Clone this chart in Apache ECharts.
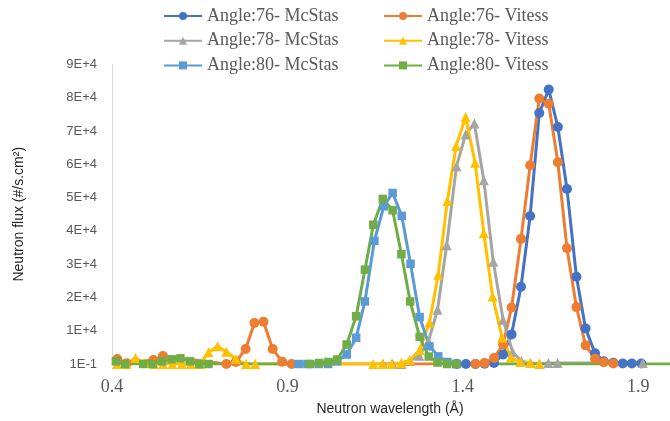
<!DOCTYPE html>
<html>
<head>
<meta charset="utf-8">
<script src="https://cdn.jsdelivr.net/npm/echarts@6/dist/echarts.min.js"></script>
<style>
html,body{margin:0;padding:0;background:#fff;}
#chart{width:670px;height:421px;}
</style>
</head>
<body>
<div id="chart"></div>
<script>
// ---- data (wavelength in Å, flux in #/s.cm2) ----
const xTicks = [0.4, 0.9, 1.4, 1.9];
const yTicks = ['1E-1','1E+4','2E+4','3E+4','4E+4','5E+4','6E+4','7E+4','8E+4','9E+4'];

const x76McStas = [1.383,1.409,1.436,1.462,1.489,1.515,1.539,1.566,1.592,1.618,1.645,1.671,1.697,1.724,1.750,1.777,1.802,1.829,1.856,1.882,1.909];
const y76McStas = [0,0,0,100,300,2850,8900,23200,44500,75400,82500,71200,52600,26200,10700,3200,850,350,150,150,150];

const x76Vitess = [0.415,0.442,0.518,0.545,0.726,0.753,0.781,0.806,0.832,0.858,0.885,0.912,1.436,1.462,1.489,1.515,1.539,1.566,1.592,1.618,1.645,1.671,1.697,1.724,1.750,1.777,1.802,1.829];
const y76Vitess = [1500,200,1200,2400,0,600,4500,12300,12700,4500,700,0,0,300,1800,5900,17000,37600,59700,79800,78200,60600,34800,17100,5600,1600,550,150];

const x78McStas = [1.173,1.200,1.225,1.249,1.276,1.302,1.328,1.354,1.382,1.408,1.433,1.460,1.487,1.515,1.542,1.567,1.593,1.619,1.644,1.670,1.913];
const y78McStas = [0,0,0,900,2500,6800,16300,35700,59400,69000,72300,55200,30700,13300,3600,900,300,0,300,300,300];

const x78Vitess = [0.414,0.441,0.467,0.494,0.520,0.545,0.572,0.599,0.625,0.651,0.675,0.701,0.726,0.753,0.782,0.808,1.145,1.171,1.197,1.225,1.249,1.277,1.305,1.330,1.356,1.381,1.408,1.435,1.460,1.485,1.512,1.537,1.564,1.592,1.618];
const y78Vitess = [0,0,1800,300,0,0,0,0,0,0,3500,5300,3700,1500,0,0,0,0,0,300,1200,4200,12500,26800,49000,65500,74200,60500,39300,20300,8000,2000,600,300,100];

const x80McStas = [0.932,0.957,0.989,1.016,1.042,1.069,1.096,1.121,1.148,1.175,1.200,1.226,1.251,1.277,1.305,1.330,1.356,1.382];
const y80McStas = [0,0,0,0,800,2850,7900,18800,37000,47400,51400,44500,30100,14100,5300,2300,600,0];

const x80Vitess = [0.411,0.437,0.489,0.516,0.543,0.570,0.595,0.622,0.649,0.675,0.964,0.991,1.017,1.042,1.069,1.096,1.121,1.145,1.172,1.200,1.225,1.250,1.277,1.303,1.328,1.355,1.381,2.100];
const y80Vitess = [800,0,0,0,800,1400,1700,800,0,0,0,300,600,1350,5850,14350,28350,41850,49600,46200,33000,18800,8150,2250,450,0,0,0];

const zip = (xs, ys) => xs.map((x, i) => [x, ys[i]]);

const chart = echarts.init(document.getElementById('chart'), null, {renderer: 'canvas'});

function mk(name, xs, ys, color, symbol, size) {
  return {
    name: name, type: 'line', data: zip(xs, ys),
    symbol: symbol, symbolSize: size, showSymbol: true,
    clip: true, animation: false,
    lineStyle: {width: 3, color: color},
    itemStyle: {color: color, borderColor: color, borderWidth: 0}
  };
}

const legendText = {fontFamily: 'Liberation Serif', fontSize: 18, color: '#595959', lineHeight: 18};

chart.setOption({
  backgroundColor: '#ffffff',
  animation: false,
  grid: {left: 112, right: 2, top: 64.5, bottom: 56.5, containLabel: false},
  legend: [
    {orient: 'vertical', left: 158, top: 2, itemGap: 6.7, itemWidth: 38, itemHeight: 10,
     data: ['Angle:76- McStas', 'Angle:78- McStas', 'Angle:80- McStas'], textStyle: legendText},
    {orient: 'vertical', left: 378, top: 2, itemGap: 6.7, itemWidth: 38, itemHeight: 10,
     data: ['Angle:76- Vitess', 'Angle:78- Vitess', 'Angle:80- Vitess'], textStyle: legendText}
  ],
  xAxis: {
    type: 'value', min: 0.4, max: 1.985, interval: 0.5,
    name: 'Neutron wavelength (Å)', nameLocation: 'middle', nameGap: 38,
    nameTextStyle: {fontFamily: 'Liberation Sans', fontSize: 14, color: '#262626'},
    axisLine: {show: true, lineStyle: {color: '#D9D9D9', width: 1}},
    axisTick: {show: false},
    splitLine: {show: false},
    axisLabel: {
      margin: 14, showMaxLabel: false,
      fontFamily: 'Liberation Serif', fontSize: 18, color: '#595959',
      formatter: function (v) {
        const t = xTicks.find(function (k) { return Math.abs(k - v) < 1e-6; });
        return t === undefined ? '' : t.toFixed(1);
      }
    }
  },
  yAxis: {
    type: 'value', min: 0, max: 90000, interval: 10000,
    name: 'Neutron flux (#/s.cm²)', nameLocation: 'middle', nameGap: 86, nameRotate: 90,
    nameTextStyle: {fontFamily: 'Liberation Sans', fontSize: 14, color: '#262626'},
    axisLine: {show: true, lineStyle: {color: '#D9D9D9', width: 1}},
    axisTick: {show: false},
    splitLine: {show: false},
    axisLabel: {
      margin: 15, fontFamily: 'Liberation Sans', fontSize: 13, color: '#595959',
      formatter: function (v) { return yTicks[Math.round(v / 10000)]; }
    }
  },
  series: [
    mk('Angle:76- McStas', x76McStas, y76McStas, '#4472C4', 'circle', 10),
    mk('Angle:76- Vitess', x76Vitess, y76Vitess, '#ED7D31', 'circle', 10),
    mk('Angle:78- McStas', x78McStas, y78McStas, '#A5A5A5', 'triangle', 10),
    mk('Angle:78- Vitess', x78Vitess, y78Vitess, '#FFC000', 'triangle', 10),
    mk('Angle:80- McStas', x80McStas, y80McStas, '#5B9BD5', 'rect', 8.5),
    mk('Angle:80- Vitess', x80Vitess, y80Vitess, '#70AD47', 'rect', 8.5)
  ]
});
</script>
</body>
</html>
